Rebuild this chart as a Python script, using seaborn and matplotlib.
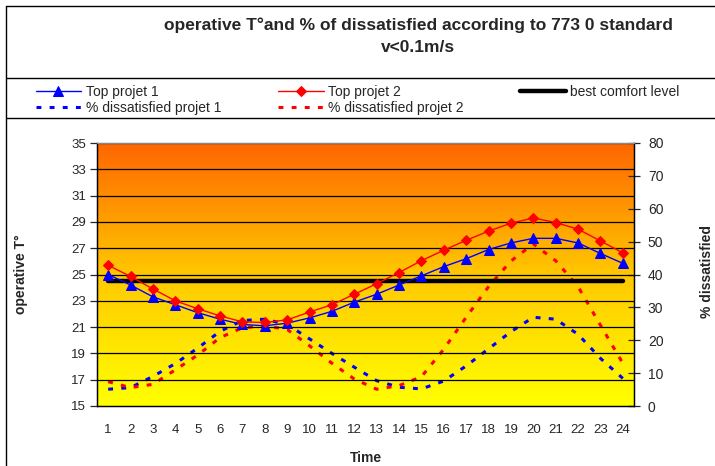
import numpy as np
import pandas as pd
import matplotlib
matplotlib.use("Agg")
import matplotlib.pyplot as plt
from matplotlib.lines import Line2D
from matplotlib.colors import LinearSegmentedColormap
import seaborn as sns

# data
hours = list(range(1, 25))
top_projet_1 = [25.0, 24.2, 23.3, 22.7, 22.1, 21.6, 21.2, 21.1, 21.3, 21.7, 22.2, 22.9,
                23.5, 24.2, 24.9, 25.6, 26.2, 26.9, 27.4, 27.75, 27.75, 27.4, 26.6, 25.85]
top_projet_2 = [25.7, 24.85, 23.9, 23.0, 22.4, 21.85, 21.4, 21.35, 21.55, 22.15, 22.7, 23.5,
                24.3, 25.15, 26.05, 26.85, 27.6, 28.3, 28.9, 29.3, 28.95, 28.45, 27.55, 26.65]
best_comfort = [24.5] * 24
dissat_projet_1 = [5.1, 5.6, 9.0, 12.9, 17.6, 22.7, 26.0, 26.4, 24.8, 20.4, 16.0, 11.8,
                   7.7, 5.7, 5.2, 7.6, 12.2, 17.4, 22.6, 27.0, 26.4, 21.8, 14.5, 8.4]
dissat_projet_2 = [7.4, 5.6, 6.6, 11.0, 15.5, 20.8, 23.8, 24.4, 23.3, 18.3, 13.0, 8.2,
                   5.1, 6.2, 8.9, 17.3, 27.0, 36.3, 44.1, 49.3, 44.2, 36.3, 24.6, 13.0]

df = pd.DataFrame({
    "hour": hours,
    "top1": top_projet_1,
    "top2": top_projet_2,
    "best": best_comfort,
    "dis1": dissat_projet_1,
    "dis2": dissat_projet_2,
})

sns.set_style("white")
plt.rcParams["font.family"] = ["Liberation Sans", "DejaVu Sans"]

W, H = 715, 466
fig = plt.figure(figsize=(W / 100, H / 100), dpi=100)
ax2 = fig.add_axes([97 / W, 1 - 406 / H, (634 - 97) / W, (406 - 143) / H])
ax = ax2.twinx()
# put the temperature scale on the left, percentages on the right
ax.yaxis.tick_left()
ax.yaxis.set_label_position("left")
ax2.yaxis.tick_right()
ax2.yaxis.set_label_position("right")

# orange -> yellow gradient background
grad = np.linspace(1, 0, 256).reshape(-1, 1)
cmap = LinearSegmentedColormap.from_list("oy", ["#ffff00", "#ffc800", "#ff6600"])
ax2.imshow(grad, extent=[0, 1, 0, 1], transform=ax2.transAxes, aspect="auto",
           cmap=cmap, zorder=0)

ax.set_ylim(15, 35)
ax.set_yticks(np.arange(15, 36, 2))
for t in np.arange(17, 36, 2):
    ax.axhline(t, color="black", lw=0.9, zorder=1)

ax2.set_ylim(0, 80)
ax2.set_yticks(np.arange(0, 81, 10))

dot = (0, (1.6, 2.7))
sns.lineplot(data=df, x="hour", y="dis1", ax=ax2, color="#0000ff", lw=2.2,
             linestyle=dot, label="% dissatisfied projet 1", legend=False)
sns.lineplot(data=df, x="hour", y="dis2", ax=ax2, color="#ff0000", lw=2.2,
             linestyle=dot, label="% dissatisfied projet 2", legend=False)
sns.lineplot(data=df, x="hour", y="best", ax=ax, color="black", lw=3.2,
             label="best comfort level", legend=False, zorder=3)
sns.lineplot(data=df, x="hour", y="top1", ax=ax, color="#0000ff", lw=1.0, marker="^",
             markersize=7.5, markeredgecolor="#0000ff", label="Top projet 1",
             legend=False, zorder=4)
sns.lineplot(data=df, x="hour", y="top2", ax=ax, color="#ff0000", lw=1.0, marker="D",
             markersize=5.5, markeredgecolor="#ff0000", label="Top projet 2",
             legend=False, zorder=5)

for a in (ax, ax2):
    a.set_xlim(0.5, 24.5)
    a.set_xticks(hours)
    a.set_xticks(np.arange(0.5, 24.6, 1), minor=True)
    for s in a.spines.values():
        s.set_color("black")
        s.set_linewidth(0.9)
    a.spines["top"].set_color("#888888")
ax.tick_params(axis="x", which="both", bottom=False, labelbottom=False)
ax2.tick_params(axis="x", which="major", length=0, pad=13, labelsize=9.5)
ax2.tick_params(axis="x", which="minor", length=8, direction="inout", width=0.9)
ax.tick_params(axis="y", left=True, right=False, length=5, width=0.9, labelsize=9.5, pad=3)
ax2.tick_params(axis="y", left=False, right=True, length=8, direction="inout", width=0.9,
                labelsize=10, pad=6)

ax2.set_xlabel("Time", fontsize=10, fontweight="bold")
ax2.xaxis.set_label_coords(0.5, -0.172)
ax.set_ylabel("operative T°", fontsize=10, fontweight="bold")
ax.yaxis.set_label_coords(-0.128, 0.5)
ax2.set_ylabel("% dissatisfied", fontsize=10, fontweight="bold")
ax2.yaxis.set_label_coords(1.122, 0.51)

fig.text(418 / W, 1 - 25 / H, "operative T°and % of dissatisfied according to 773 0 standard",
         ha="center", va="center", fontsize=12.5, fontweight="bold")
fig.text(418 / W, 1 - 47 / H, "v<0.1m/s", ha="center", va="center", fontsize=12.5,
         fontweight="bold")

# frame lines around title / legend block
for (x0, y0, x1, y1) in [(6, 6, W, 6), (6, 6, 6, H), (6, 78, W, 78), (6, 118, W, 118)]:
    fig.add_artist(Line2D([x0 / W, x1 / W], [1 - y0 / H, 1 - y1 / H], color="black", lw=1.0))

h1, l1 = ax.get_legend_handles_labels()
h2, l2 = ax2.get_legend_handles_labels()
hd = dict(zip(l1 + l2, h1 + h2))
order = ["Top projet 1", "% dissatisfied projet 1", "Top projet 2",
         "% dissatisfied projet 2", "best comfort level"]
fig.legend([hd[k] for k in order], order, loc="upper left", ncol=3,
           bbox_to_anchor=(30 / W, 1 - 79 / H), frameon=False, fontsize=10,
           handlelength=3.3, handletextpad=0.3, columnspacing=4.1,
           labelspacing=0.2, borderaxespad=0)

fig.savefig("out.png", dpi=100)
